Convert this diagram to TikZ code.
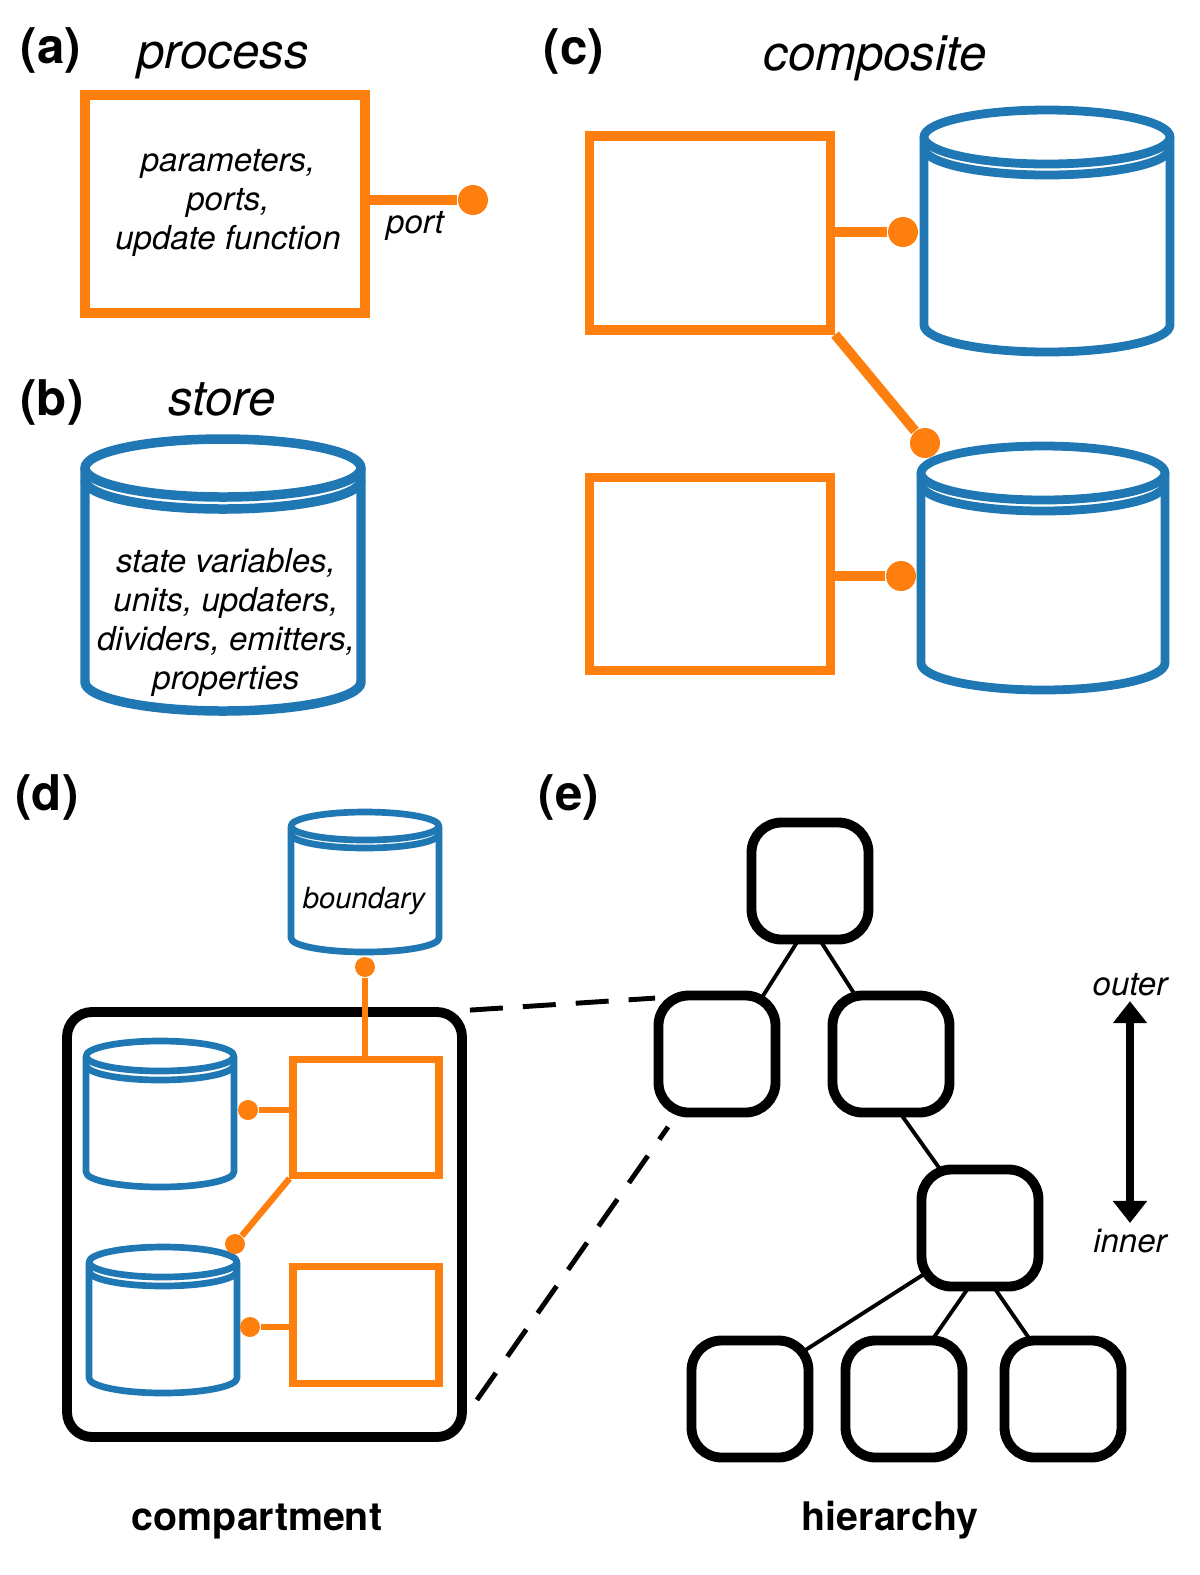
\documentclass[tikz,border=0pt]{standalone}
\usepackage{fontspec}
\setmainfont{TeX Gyre Heros}
\usetikzlibrary{arrows.meta,backgrounds}
\definecolor{procorange}{HTML}{FF7F0E}
\definecolor{storeblue}{HTML}{1F77B4}

% store drum drawn round a named box: node, x radius, y radius, gap, style
\newcommand{\drum}[5]{%
	\draw[#5] (#1.north) ellipse ({#2} and {#3});
	\draw[#5] ([yshift=-#4]#1.north west) arc (180:360:{#2} and {#3});
	\draw[#5] (#1.north west) -- (#1.south west) arc (180:360:{#2} and {#3}) -- (#1.north east);
}

\begin{document}
\begin{tikzpicture}[
		tag/.style={font=\fontsize{14}{16}\selectfont\bfseries, anchor=base, inner sep=0pt},
		title/.style={font=\fontsize{14}{16}\selectfont\itshape, anchor=base, inner sep=0pt},
		body/.style={font=\fontsize{9.4}{11.1}\selectfont\itshape, align=center, inner sep=0pt},
		caption/.style={font=\fontsize{11.2}{13}\selectfont\bfseries, anchor=base, inner sep=0pt},
		proc/.style={draw=procorange, rectangle, inner sep=0pt},
		storebox/.style={inner sep=0pt, outer sep=0pt},
		storeline/.style={draw=storeblue, line join=round},
		portdot/.style={circle, fill=procorange, inner sep=0pt, minimum size=3mm},
		portline/.style={draw=procorange},
		tnode/.style={draw, fill=white, line width=2.8pt, rounded corners=0.3cm, minimum width=1.17cm, minimum height=1.17cm, inner sep=0pt},
		tedge/.style={line width=1.1pt},
		zoomline/.style={line width=1.4pt, dash pattern=on 0.33cm off 0.2cm},
		>={Triangle[width=0.33cm,length=0.22cm]}
	]
	\useasboundingbox (0,0) rectangle (12,-15.75);

	% (a) process
	\node[tag] (labA) at (0.51,-0.63) {(a)};
	\node[title] (titA) at (2.23,-0.68) {process};
	\node[proc, line width=2.9pt, minimum width=2.80cm, minimum height=2.18cm] (procA) at (2.25,-2.04) {};
	\node[body] (procAtxt) at (2.28,-2.03) {parameters,\\ports,\\update function};
	\node[portdot] (portA) at (4.73,-2.00) {};
	\draw[portline, line width=2.9pt] (procA.east |- portA) -- (portA);
	\node[body, anchor=base] (portAlbl) at (4.15,-2.33) {port};

	% (b) store
	\node[tag] (labB) at (0.52,-4.15) {(b)};
	\node[title] (titB) at (2.22,-4.15) {store};
	\node[storebox, minimum width=2.76cm, minimum height=2.14cm] (storeB) at (2.23,-5.75) {};
	\drum{storeB}{1.38}{0.29}{0.12cm}{storeline, line width=2.7pt}
	\node[body] (storeBtxt) at (2.26,-6.22) {state variables,\\units, updaters,\\dividers, emitters,\\properties};

	% (c) composite
	\node[tag] (labC) at (5.74,-0.64) {(c)};
	\node[title] (titC) at (8.75,-0.70) {composite};
	\node[proc, line width=2.6pt, minimum width=2.41cm, minimum height=1.94cm] (procC1) at (7.10,-2.33) {};
	\node[proc, line width=2.6pt, minimum width=2.41cm, minimum height=1.93cm] (procC2) at (7.10,-5.74) {};
	\node[storebox, minimum width=2.46cm, minimum height=1.88cm] (storeC1) at (10.47,-2.31) {};
	\node[storebox, minimum width=2.44cm, minimum height=1.90cm] (storeC2) at (10.43,-5.68) {};
	\drum{storeC1}{1.23}{0.27}{0.11cm}{storeline, line width=2.5pt}
	\drum{storeC2}{1.22}{0.27}{0.11cm}{storeline, line width=2.5pt}
	\node[portdot] (portC1) at (9.03,-2.32) {};
	\node[portdot] (portC2) at (9.25,-4.43) {};
	\node[portdot] (portC3) at (9.01,-5.76) {};
	\draw[portline, line width=2.8pt] (procC1.east |- portC1) -- (portC1);
	\draw[portline, line width=2.8pt] (procC1.south east) -- (portC2);
	\draw[portline, line width=2.8pt] (procC2.east |- portC3) -- (portC3);

	% (d) compartment
	\node[tag] (labD) at (0.47,-8.10) {(d)};
	\node[storebox, minimum width=1.48cm, minimum height=1.12cm] (storeD0) at (3.65,-8.82) {};
	\drum{storeD0}{0.74}{0.14}{0.08cm}{storeline, line width=1.9pt}
	\node[body, anchor=base, font=\fontsize{8.3}{10}\selectfont\itshape] (storeD0txt) at (3.64,-9.08) {boundary};
	\node[draw, line width=2.8pt, rounded corners=0.25cm, minimum width=3.95cm, minimum height=4.25cm, inner sep=0pt] (comp) at (2.645,-12.245) {};
	\node[proc, line width=2pt, minimum width=1.46cm, minimum height=1.16cm] (procD1) at (3.66,-11.17) {};
	\node[proc, line width=2pt, minimum width=1.46cm, minimum height=1.17cm] (procD2) at (3.66,-13.245) {};
	\node[storebox, minimum width=1.48cm, minimum height=1.16cm] (storeD1) at (1.60,-11.14) {};
	\node[storebox, minimum width=1.48cm, minimum height=1.16cm] (storeD2) at (1.63,-13.20) {};
	\drum{storeD1}{0.74}{0.15}{0.09cm}{storeline, line width=1.9pt}
	\drum{storeD2}{0.74}{0.15}{0.09cm}{storeline, line width=1.9pt}
	\node[portdot, minimum size=2mm] (portD0) at (3.65,-9.67) {};
	\node[portdot, minimum size=2mm] (portD1) at (2.48,-11.10) {};
	\node[portdot, minimum size=2mm] (portD2) at (2.35,-12.44) {};
	\node[portdot, minimum size=2mm] (portD3) at (2.50,-13.27) {};
	\draw[portline, line width=1.8pt] (portD0) -- (portD0 |- procD1.north);
	\draw[portline, line width=1.8pt] (procD1.west |- portD1) -- (portD1);
	\draw[portline, line width=1.8pt] (procD1.south west) -- (portD2);
	\draw[portline, line width=1.8pt] (procD2.west |- portD3) -- (portD3);
	\node[caption] (capD) at (2.57,-15.30) {compartment};

	% (e) hierarchy
	\node[tag] (labE) at (5.69,-8.10) {(e)};
	\node[tnode] (root) at (8.10,-8.81) {};
	\node[tnode] (kidL) at (7.17,-10.54) {};
	\node[tnode] (kidR) at (8.91,-10.54) {};
	\node[tnode] (mid) at (9.80,-12.28) {};
	\node[tnode] (leafA) at (7.50,-13.99) {};
	\node[tnode] (leafB) at (9.04,-13.99) {};
	\node[tnode] (leafC) at (10.63,-13.99) {};
	\begin{scope}[on background layer]
		\draw[tedge] ([xshift=0.26cm]root.center) -- ([xshift=0.09cm]kidL.center);
		\draw[tedge] ([xshift=-0.28cm]root.center) -- ([xshift=0.02cm]kidR.center);
		\draw[tedge] ([xshift=-0.33cm]kidR.center) -- ([xshift=0.02cm]mid.center);
		\draw[tedge] ([xshift=0.16cm]mid.center) -- ([xshift=-0.21cm]leafA.center);
		\draw[tedge] ([xshift=0.30cm]mid.center) -- ([xshift=-0.13cm]leafB.center);
		\draw[tedge] ([xshift=-0.27cm]mid.center) -- ([xshift=0.08cm]leafC.center);
	\end{scope}
	\draw[zoomline] ([shift={(0.03,-0.03)}]comp.north east) -- ([shift={(0.015,-0.075)}]kidL.north west);
	\draw[zoomline] ([shift={(0.10,0.42)}]comp.south east) -- ([shift={(0.145,-0.095)}]kidL.south west);
	\node[body, anchor=base, inner sep=0.05cm] (lvlOut) at (11.30,-9.95) {outer};
	\node[body, anchor=base, inner sep=0.05cm] (lvlIn) at (11.30,-12.52) {inner};
	\draw[<->, line width=2pt] (lvlOut.south) -- (lvlIn.north);
	\node[caption] (capE) at (8.90,-15.30) {hierarchy};
\end{tikzpicture}
\end{document}
